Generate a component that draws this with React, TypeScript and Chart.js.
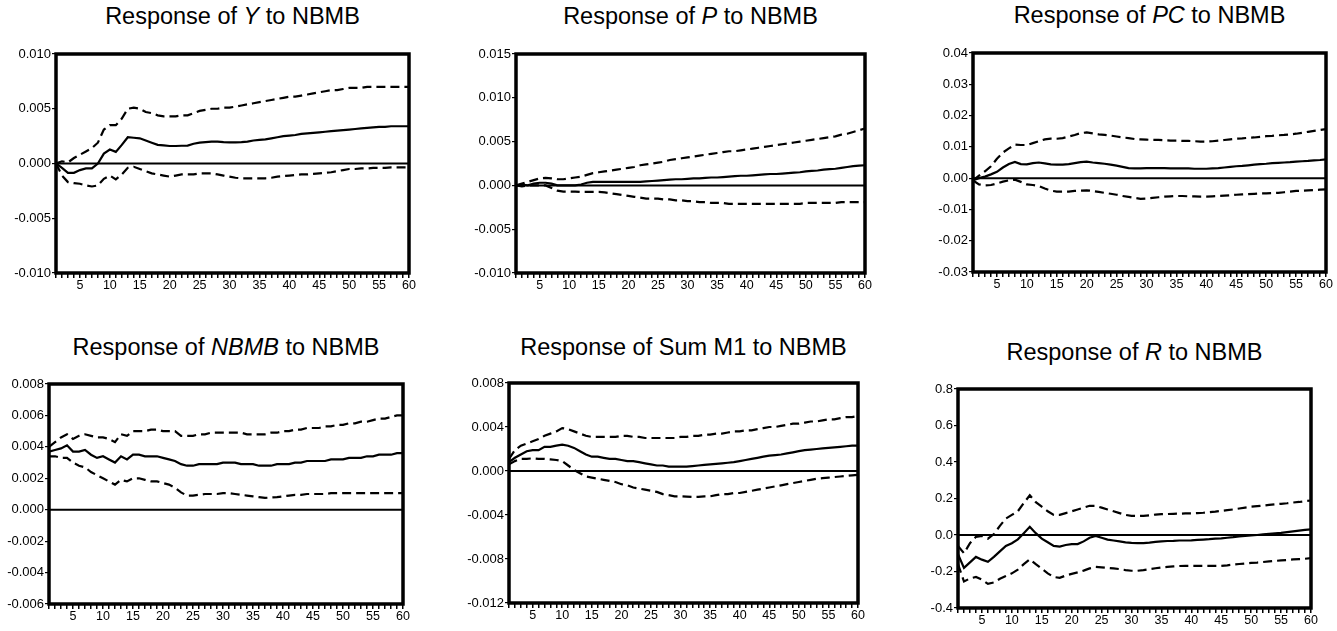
import React, { useEffect, useRef } from 'react';
import { Chart, registerables } from 'chart.js';

Chart.register(...registerables);

const FONT = '"Liberation Sans", Arial, Helvetica, sans-serif';

const periods = [
  1, 2, 3, 4, 5, 6, 7, 8, 9, 10,
  11, 12, 13, 14, 15, 16, 17, 18, 19, 20,
  21, 22, 23, 24, 25, 26, 27, 28, 29, 30,
  31, 32, 33, 34, 35, 36, 37, 38, 39, 40,
  41, 42, 43, 44, 45, 46, 47, 48, 49, 50,
  51, 52, 53, 54, 55, 56, 57, 58, 59, 60,
];

const yResp = [
  0, -0.0004, -0.00085, -0.00085, -0.0006, -0.00045, -0.00045, 0, 0.0009, 0.00127,
  0.00106, 0.0017, 0.0024, 0.00235, 0.0023, 0.0021, 0.0019, 0.0017, 0.00165, 0.0016,
  0.0016, 0.00162, 0.00163, 0.0018, 0.0019, 0.00195, 0.002, 0.002, 0.00195, 0.00193,
  0.00193, 0.00195, 0.002, 0.0021, 0.00215, 0.0022, 0.0023, 0.0024, 0.0025, 0.00255,
  0.0026, 0.0027, 0.00275, 0.0028, 0.00285, 0.0029, 0.00295, 0.003, 0.00305, 0.0031,
  0.00315, 0.0032, 0.00325, 0.0033, 0.00335, 0.00335, 0.0034, 0.0034, 0.0034, 0.0034,
];
const yUpper = [
  0, 0.0002, 0.0001, 0.0005, 0.0008, 0.0011, 0.0014, 0.0019, 0.0031, 0.0035,
  0.0035, 0.0041, 0.005, 0.0051, 0.005, 0.0047, 0.0046, 0.0044, 0.0043, 0.0043,
  0.0043, 0.0044, 0.0044, 0.0046, 0.0048, 0.0049, 0.005, 0.005, 0.0051, 0.0051,
  0.0052, 0.0053, 0.0054, 0.0055, 0.0056, 0.0057, 0.0058, 0.0059, 0.006, 0.0061,
  0.0061, 0.0062, 0.0063, 0.0064, 0.0065, 0.0066, 0.0067, 0.0067, 0.0068, 0.0069,
  0.0069, 0.0069, 0.007, 0.007, 0.007, 0.007, 0.007, 0.007, 0.007, 0.007,
];
const yLower = [
  0, -0.0011, -0.0017, -0.0018, -0.00185, -0.002, -0.0021, -0.002, -0.0014, -0.0011,
  -0.00145, -0.001, -0.0004, -0.0003, -0.0005, -0.0007, -0.0009, -0.001, -0.0011, -0.0012,
  -0.0011, -0.001, -0.001, -0.001, -0.0009, -0.0009, -0.0009, -0.001, -0.0011, -0.0012,
  -0.0013, -0.00135, -0.00135, -0.00135, -0.00135, -0.00135, -0.0013, -0.0012, -0.00115, -0.0011,
  -0.00105, -0.001, -0.001, -0.00095, -0.0009, -0.00085, -0.0008, -0.0007, -0.0006, -0.0005,
  -0.0005, -0.00045, -0.00045, -0.0004, -0.0004, -0.0004, -0.00035, -0.00035, -0.00035, -0.00035,
];

const pResp = [
  0, 0.0001, 0, 0.0002, 0.0003, 0.0003, 0.0002, 0, 0, 0,
  0, 0.0001, 0.0003, 0.0004, 0.0004, 0.0004, 0.0004, 0.0004, 0.0004, 0.0004,
  0.0004, 0.0004, 0.00045, 0.0005, 0.00055, 0.0006, 0.00065, 0.0007, 0.0007, 0.00075,
  0.0008, 0.0008, 0.00085, 0.0009, 0.0009, 0.00095, 0.001, 0.00105, 0.0011, 0.0011,
  0.00115, 0.0012, 0.00125, 0.0013, 0.0013, 0.00135, 0.0014, 0.00145, 0.0015, 0.0016,
  0.00165, 0.0017, 0.0018, 0.00185, 0.0019, 0.002, 0.0021, 0.0022, 0.00225, 0.0023,
];
const pUpper = [
  0, 0.0002, 0.0004, 0.0006, 0.0008, 0.00085, 0.0008, 0.0007, 0.0007, 0.0008,
  0.0009, 0.001, 0.0012, 0.0014, 0.0015, 0.0016, 0.0017, 0.0018, 0.0019, 0.002,
  0.0021, 0.0023, 0.0024, 0.0025, 0.0026, 0.0027, 0.0029, 0.003, 0.0031, 0.0032,
  0.0033, 0.0034, 0.0035, 0.0036, 0.0037, 0.0038, 0.0039, 0.0039, 0.004, 0.0041,
  0.0042, 0.0043, 0.0044, 0.0045, 0.0046, 0.0047, 0.0048, 0.0049, 0.005, 0.0051,
  0.0052, 0.0053, 0.0054, 0.0055, 0.0056, 0.0058, 0.0059, 0.0061, 0.0063, 0.0065,
];
const pLower = [
  0, -0.0001, 0, 0, 0, 0, -0.0003, -0.0006, -0.0007, -0.0007,
  -0.0007, -0.00075, -0.00075, -0.00075, -0.00075, -0.0008, -0.0009, -0.001, -0.0011, -0.0012,
  -0.0013, -0.0014, -0.0015, -0.0015, -0.0015, -0.0016, -0.0016, -0.0017, -0.0017, -0.0018,
  -0.0018, -0.0019, -0.0019, -0.002, -0.002, -0.002, -0.0021, -0.0021, -0.0021, -0.0021,
  -0.0021, -0.0021, -0.0021, -0.0021, -0.0021, -0.0021, -0.0021, -0.0021, -0.0021, -0.002,
  -0.002, -0.002, -0.002, -0.002, -0.002, -0.0019, -0.0019, -0.0019, -0.0019, -0.0019,
];

const pcResp = [
  -0.0007, 0, 0.0005, 0.0012, 0.002, 0.0034, 0.0045, 0.0052, 0.0045, 0.0044,
  0.0048, 0.005, 0.0047, 0.0044, 0.0043, 0.0043, 0.0045, 0.0048, 0.0051, 0.0053,
  0.005, 0.0048, 0.0046, 0.0043, 0.004, 0.0036, 0.0032, 0.0031, 0.0031, 0.0032,
  0.0032, 0.0032, 0.0032, 0.0031, 0.0031, 0.0031, 0.0031, 0.003, 0.003, 0.003,
  0.0031, 0.0032, 0.0034, 0.0036, 0.0038, 0.0039, 0.0041, 0.0043, 0.0045, 0.0046,
  0.0048, 0.0049, 0.005, 0.0051, 0.0053, 0.0054, 0.0055, 0.0057, 0.0058, 0.006,
];
const pcUpper = [
  -0.0007, 0.0008, 0.0022, 0.0038, 0.0062, 0.0082, 0.0095, 0.0107, 0.0106, 0.0106,
  0.0112, 0.0118, 0.0124, 0.0126, 0.0126, 0.0128, 0.0133, 0.0138, 0.0144, 0.0146,
  0.0143, 0.014, 0.0138, 0.0136, 0.0133, 0.013, 0.0128, 0.0125, 0.0124, 0.0123,
  0.0122, 0.0122, 0.0121, 0.012, 0.012, 0.0119, 0.0119, 0.0118, 0.0117, 0.0117,
  0.0118, 0.012, 0.0122, 0.0124, 0.0126, 0.0127, 0.0129, 0.013, 0.0132, 0.0134,
  0.0135, 0.0137, 0.0138, 0.014, 0.0142, 0.0145, 0.0148, 0.0151, 0.0154, 0.0157,
];
const pcLower = [
  -0.0007, -0.002, -0.0023, -0.0022, -0.0017, -0.0011, -0.0007, -0.0005, -0.0012, -0.002,
  -0.0022, -0.0025, -0.0033, -0.004, -0.0043, -0.0043, -0.0043, -0.0041, -0.004, -0.0039,
  -0.0041, -0.0044, -0.0047, -0.005, -0.0053, -0.0057, -0.006, -0.0063, -0.0066, -0.0065,
  -0.0063, -0.0061, -0.0059, -0.0058, -0.0057, -0.0057, -0.0058, -0.0058, -0.0059, -0.0059,
  -0.0058, -0.0057, -0.0056, -0.0055, -0.0053, -0.0052, -0.0051, -0.005, -0.0049, -0.0049,
  -0.0048, -0.0047, -0.0045, -0.0043, -0.0041, -0.004, -0.0039, -0.0038, -0.0037, -0.0036,
];

const nbResp = [
  0.0037, 0.0038, 0.0039, 0.0041, 0.0037, 0.0037, 0.0038, 0.0035, 0.0033, 0.0034,
  0.0032, 0.003, 0.0034, 0.0032, 0.0035, 0.0035, 0.0034, 0.0034, 0.0034, 0.0033,
  0.0032, 0.0031, 0.0029, 0.0028, 0.0028, 0.0029, 0.0029, 0.0029, 0.0029, 0.003,
  0.003, 0.003, 0.0029, 0.0029, 0.0029, 0.0028, 0.0028, 0.0028, 0.0029, 0.0029,
  0.0029, 0.003, 0.003, 0.0031, 0.0031, 0.0031, 0.0031, 0.0032, 0.0032, 0.0032,
  0.0033, 0.0033, 0.0033, 0.0034, 0.0034, 0.0035, 0.0035, 0.0035, 0.0036, 0.0036,
];
const nbUpper = [
  0.004, 0.0043, 0.0046, 0.0048, 0.0045, 0.0047, 0.0048, 0.0047, 0.0046, 0.0046,
  0.0045, 0.0043, 0.0048, 0.0047, 0.005, 0.005, 0.005, 0.0051, 0.0051, 0.005,
  0.005, 0.005, 0.0047, 0.0047, 0.0047, 0.0048, 0.0048, 0.0049, 0.0049, 0.0049,
  0.0049, 0.0049, 0.0049, 0.0048, 0.0048, 0.0048, 0.0048, 0.0049, 0.0049, 0.005,
  0.005, 0.0051, 0.0051, 0.0052, 0.0052, 0.0052, 0.0053, 0.0053, 0.0054, 0.0054,
  0.0055, 0.0055, 0.0056, 0.0056, 0.0057, 0.0058, 0.0058, 0.0059, 0.006, 0.006,
];
const nbLower = [
  0.0034, 0.0034, 0.0033, 0.0033, 0.003, 0.0028, 0.0027, 0.0024, 0.0022, 0.002,
  0.0018, 0.0016, 0.0019, 0.0018, 0.002, 0.002, 0.0019, 0.0018, 0.0018, 0.0017,
  0.0016, 0.0014, 0.0011, 0.0009, 0.0009, 0.00095, 0.001, 0.001, 0.001, 0.00105,
  0.00105, 0.001, 0.00095, 0.0009, 0.00085, 0.0008, 0.00075, 0.00078, 0.0008, 0.00085,
  0.0009, 0.00095, 0.00095, 0.001, 0.001, 0.001, 0.001, 0.00105, 0.00105, 0.00105,
  0.00105, 0.00105, 0.00105, 0.00105, 0.00105, 0.00105, 0.00105, 0.00105, 0.00105, 0.00105,
];

const m1Resp = [
  0.0008, 0.0012, 0.0015, 0.0018, 0.0019, 0.0019, 0.0022, 0.0022, 0.0023, 0.0024,
  0.0023, 0.0021, 0.0018, 0.0015, 0.0013, 0.0013, 0.0012, 0.0011, 0.0011, 0.001,
  0.0009, 0.0009, 0.0008, 0.0007, 0.0006, 0.0005, 0.0005, 0.0004, 0.0004, 0.0004,
  0.0004, 0.00045, 0.0005, 0.00055, 0.0006, 0.00065, 0.0007, 0.00075, 0.0008, 0.0009,
  0.001, 0.0011, 0.0012, 0.0013, 0.0014, 0.00145, 0.0015, 0.0016, 0.0017, 0.0018,
  0.0019, 0.00195, 0.002, 0.00205, 0.0021, 0.00215, 0.0022, 0.00225, 0.0023, 0.0023,
];
const m1Upper = [
  0.0011, 0.0019, 0.0023, 0.0025, 0.0027, 0.0029, 0.0032, 0.0034, 0.0036, 0.0039,
  0.0038, 0.0036, 0.0034, 0.0032, 0.0031, 0.0031, 0.0031, 0.0031, 0.0031, 0.0032,
  0.0032, 0.0031, 0.0031, 0.003, 0.003, 0.003, 0.003, 0.003, 0.003, 0.0031,
  0.0031, 0.0032, 0.0032, 0.0033, 0.0033, 0.0034, 0.0034, 0.0035, 0.0036, 0.0036,
  0.0037, 0.0037, 0.0038, 0.0039, 0.004, 0.004, 0.0041, 0.0042, 0.0043, 0.0043,
  0.0044, 0.0045, 0.0045, 0.0046, 0.0047, 0.0047, 0.0048, 0.0049, 0.0049, 0.005,
];
const m1Lower = [
  0.0006, 0.0009, 0.0011, 0.0011, 0.00115, 0.0011, 0.0011, 0.00105, 0.001, 0.0009,
  0.0005, 0.0001, -0.0002, -0.0005, -0.0006, -0.0007, -0.0008, -0.0009, -0.001, -0.0012,
  -0.0013, -0.0015, -0.0016, -0.0017, -0.0018, -0.0019, -0.0021, -0.0022, -0.0023, -0.0023,
  -0.00233, -0.00235, -0.00235, -0.0023, -0.0023, -0.0022, -0.0021, -0.0021, -0.002, -0.002,
  -0.0019, -0.0018, -0.0017, -0.0016, -0.0015, -0.0014, -0.0013, -0.0012, -0.0011, -0.001,
  -0.0009, -0.0008, -0.0007, -0.00065, -0.0006, -0.00055, -0.0005, -0.00045, -0.0004, -0.00035,
];

const rResp = [
  -0.105, -0.18, -0.15, -0.12, -0.135, -0.147, -0.12, -0.09, -0.06, -0.045,
  -0.024, 0.01, 0.045, 0.01, -0.02, -0.04, -0.06, -0.064, -0.055, -0.05,
  -0.05, -0.035, -0.015, -0.005, -0.015, -0.025, -0.03, -0.035, -0.04, -0.043,
  -0.045, -0.045, -0.042, -0.038, -0.035, -0.033, -0.032, -0.03, -0.03, -0.029,
  -0.027, -0.025, -0.023, -0.02, -0.018, -0.015, -0.012, -0.008, -0.005, -0.002,
  0, 0.003, 0.006, 0.009, 0.012, 0.016, 0.02, 0.024, 0.028, 0.031,
];
const rUpper = [
  -0.06, -0.1, -0.045, -0.01, -0.005, -0.02, 0.005, 0.05, 0.09, 0.11,
  0.13, 0.175, 0.218, 0.18, 0.155, 0.13, 0.11, 0.11, 0.12, 0.13,
  0.14, 0.15, 0.16, 0.16, 0.15, 0.14, 0.13, 0.12, 0.11, 0.105,
  0.104, 0.105, 0.108, 0.112, 0.114, 0.115, 0.116, 0.117, 0.118, 0.118,
  0.12, 0.122, 0.125, 0.128, 0.132, 0.136, 0.14, 0.145, 0.15, 0.155,
  0.158, 0.161, 0.165, 0.168, 0.171, 0.174, 0.178, 0.181, 0.185, 0.189,
];
const rLower = [
  -0.16, -0.255, -0.238, -0.23, -0.245, -0.268, -0.26, -0.24, -0.225, -0.21,
  -0.19, -0.16, -0.133, -0.16, -0.185, -0.21, -0.23, -0.235, -0.222, -0.213,
  -0.205, -0.195, -0.183, -0.175, -0.177, -0.18, -0.183, -0.187, -0.192, -0.196,
  -0.196, -0.192, -0.187, -0.182, -0.178, -0.175, -0.172, -0.17, -0.169, -0.169,
  -0.169, -0.169, -0.169, -0.169, -0.169, -0.166, -0.162, -0.159, -0.156, -0.153,
  -0.151, -0.148, -0.145, -0.142, -0.139, -0.137, -0.134, -0.132, -0.13, -0.127,
];

// Titles (prefix, italic part, suffix)
const titles: [string, string, string][] = [
  ['Response of ', 'Y', ' to NBMB'],
  ['Response of ', 'P', ' to NBMB'],
  ['Response of ', 'PC', ' to NBMB'],
  ['Response of ', 'NBMB', ' to NBMB'],
  ['Response of Sum M1 to NBMB', '', ''],
  ['Response of ', 'R', ' to NBMB'],
];

// y-axis ranges: [min, max, step, decimals]
const yRanges: [number, number, number, number][] = [
  [-0.01, 0.01, 0.005, 3],
  [-0.01, 0.015, 0.005, 3],
  [-0.03, 0.04, 0.01, 2],
  [-0.006, 0.008, 0.002, 3],
  [-0.012, 0.008, 0.004, 3],
  [-0.4, 0.8, 0.2, 1],
];

const seriesSets = [
  [yResp, yUpper, yLower],
  [pResp, pUpper, pLower],
  [pcResp, pcUpper, pcLower],
  [nbResp, nbUpper, nbLower],
  [m1Resp, m1Upper, m1Lower],
  [rResp, rUpper, rLower],
];

// Layout: plot area box on page [left, top, right, bottom], title centre y
const boxes: [number, number, number, number, number][] = [
  [56, 54, 409, 273, 17],
  [516, 54, 865, 273, 17],
  [973, 53, 1326, 272, 16],
  [49, 384, 403, 604, 348],
  [509, 383, 858, 603, 348],
  [958, 389, 1311, 608, 353],
];

const PAD_L = 56;
const PAD_T = 10;
const PAD_R = 14;
const PAD_B = 30;

function Panel({ idx }: { idx: number }) {
  const ref = useRef<HTMLCanvasElement | null>(null);
  const [L, T, R, B] = boxes[idx];
  const w = R - L + PAD_L + PAD_R;
  const h = B - T + PAD_T + PAD_B;

  useEffect(() => {
    const [solid, upper, lower] = seriesSets[idx];
    const [ymin, ymax, ystep, dec] = yRanges[idx];
    const mk = (arr: number[]) => periods.map((x, i) => ({ x, y: arr[i] }));
    const framePlugin = {
      id: 'frame',
      beforeDatasetsDraw(chart: any) {
        const { ctx, chartArea: a, scales } = chart;
        const y0 = scales.y.getPixelForValue(0);
        ctx.save();
        ctx.strokeStyle = '#000';
        ctx.lineWidth = 2;
        ctx.beginPath();
        ctx.moveTo(a.left, y0);
        ctx.lineTo(a.right, y0);
        ctx.stroke();
        ctx.restore();
      },
      afterDraw(chart: any) {
        const { ctx, chartArea: a } = chart;
        ctx.save();
        ctx.strokeStyle = '#000';
        ctx.lineWidth = 3.5;
        ctx.strokeRect(a.left, a.top, a.right - a.left, a.bottom - a.top);
        ctx.restore();
      },
    };
    const common = { borderColor: '#000', borderWidth: 2.2, pointRadius: 0, fill: false, tension: 0 };
    const chart = new Chart(ref.current as HTMLCanvasElement, {
      type: 'line',
      data: {
        datasets: [
          { ...common, data: mk(solid) },
          { ...common, data: mk(upper), borderDash: [9, 5] },
          { ...common, data: mk(lower), borderDash: [9, 5] },
        ],
      },
      options: {
        responsive: false,
        animation: false,
        devicePixelRatio: 1,
        layout: { padding: { left: 0, top: PAD_T, right: PAD_R, bottom: 0 } },
        plugins: { legend: { display: false }, tooltip: { enabled: false }, title: { display: false } },
        scales: {
          x: {
            type: 'linear',
            min: 1,
            max: 60,
            afterFit(s: any) { s.height = PAD_B; },
            border: { display: false },
            grid: { display: true, drawOnChartArea: false, drawTicks: true, tickLength: 5, color: '#000', lineWidth: 1.5 },
            ticks: {
              stepSize: 1,
              maxTicksLimit: 100,
              autoSkip: false,
              maxRotation: 0,
              minRotation: 0,
              padding: 0,
              color: '#000',
              font: { family: FONT, size: 12.5 },
              callback: (v: any) => (Math.round(Number(v)) % 5 === 0 ? String(Math.round(Number(v))) : ''),
            },
          },
          y: {
            type: 'linear',
            min: ymin,
            max: ymax,
            afterFit(s: any) { s.width = PAD_L; },
            border: { display: false },
            grid: { display: true, drawOnChartArea: false, drawTicks: true, tickLength: 4, color: '#000', lineWidth: 1.2 },
            ticks: {
              stepSize: ystep,
              padding: 1,
              color: '#000',
              font: { family: FONT, size: 13 },
              callback: (v: any) => Number(v).toFixed(dec),
            },
          },
        },
      },
      plugins: [framePlugin],
    } as any);
    return () => chart.destroy();
  }, [idx]);

  return (
    <canvas
      ref={ref}
      width={w}
      height={h}
      style={{ position: 'absolute', left: L - PAD_L, top: T - PAD_T, width: w, height: h }}
    />
  );
}

function Title({ idx }: { idx: number }) {
  const [L, , R, , cy] = boxes[idx];
  const [pre, it, post] = titles[idx];
  const size = 23.5;
  const cx = (L + R) / 2;
  return (
    <div
      style={{
        position: 'absolute',
        left: cx - 250,
        width: 500,
        top: cy - size / 2 - 1,
        height: size + 4,
        lineHeight: `${size + 2}px`,
        fontSize: size,
        fontFamily: FONT,
        color: '#000',
        textAlign: 'center',
        whiteSpace: 'nowrap',
      }}
    >
      {pre}
      {it ? <i>{it}</i> : null}
      {post}
    </div>
  );
}

export default function App() {
  const idxs = [0, 1, 2, 3, 4, 5];
  return (
    <div style={{ position: 'absolute', left: 0, top: 0, width: 1337, height: 631, background: '#fff', overflow: 'hidden' }}>
      {idxs.map((i) => (
        <React.Fragment key={i}>
          <Title idx={i} />
          <Panel idx={i} />
        </React.Fragment>
      ))}
    </div>
  );
}
